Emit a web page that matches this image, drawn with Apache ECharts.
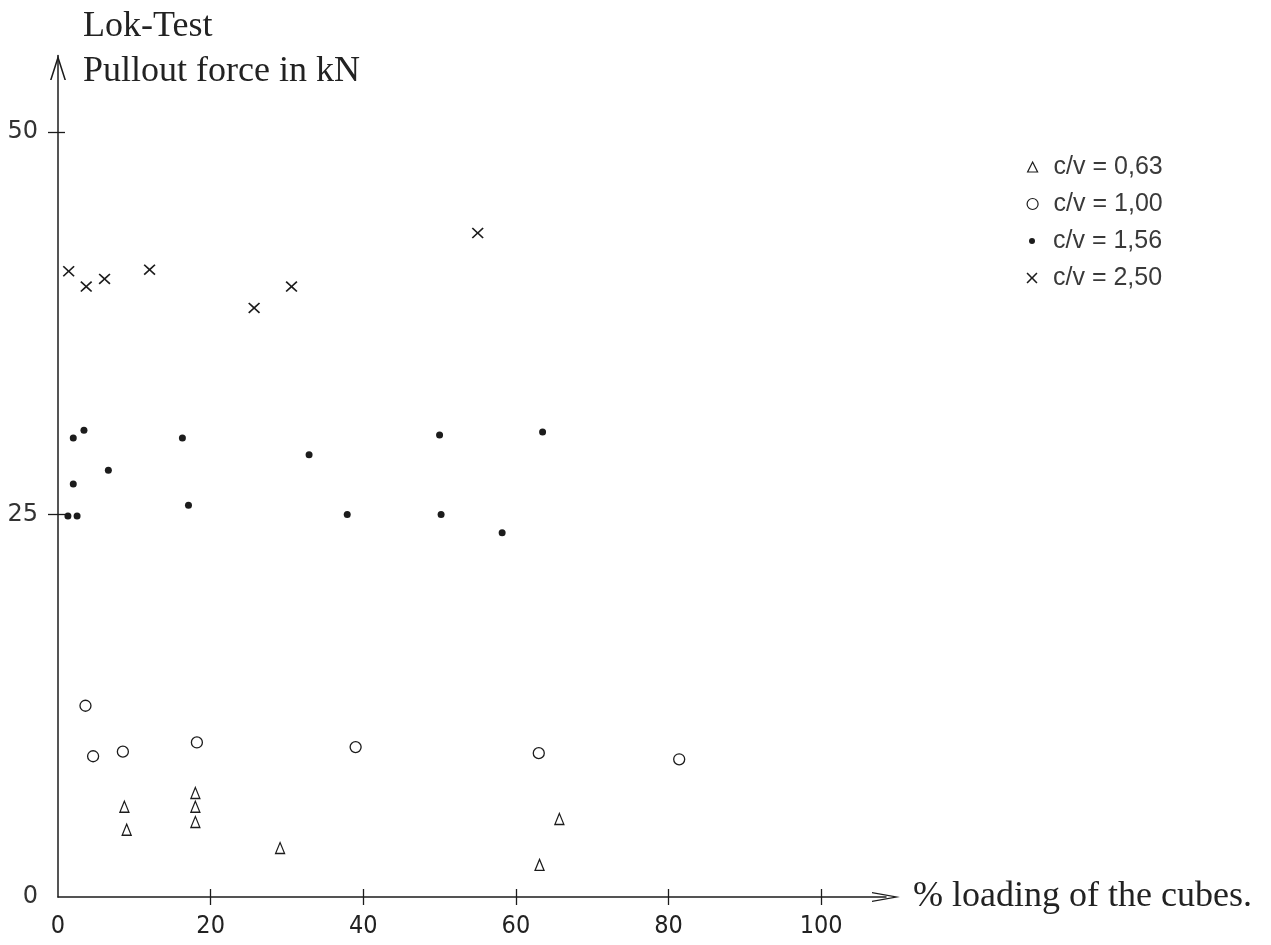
<!DOCTYPE html>
<html><head><meta charset="utf-8">
<script src="https://cdn.jsdelivr.net/npm/echarts@6/dist/echarts.min.js"></script>
<style>html,body{margin:0;padding:0;background:#fff}#c{width:1271px;height:945px}</style>
</head><body><div id="c"></div>
<script>
// ---- data ----
const seriesNames = ['c/v = 0,63', 'c/v = 1,00', 'c/v = 1,56', 'c/v = 2,50'];

const triX = [8.7, 9.0, 18.0, 18.0, 18.0, 29.1, 63.1, 65.7];
const triY = [5.9, 4.4, 6.8, 5.9, 4.9, 3.2, 2.1, 5.1];

const circX = [3.6, 4.6, 8.5, 18.2, 39.0, 63.0, 81.4];
const circY = [12.5, 9.2, 9.5, 10.1, 9.8, 9.4, 9.0];

const dotX = [2.0, 3.4, 6.6, 2.0, 1.3, 2.5, 16.3, 17.1, 32.9, 50.0, 63.5, 37.9, 50.2, 58.2];
const dotY = [30.0, 30.5, 27.9, 27.0, 24.9, 24.9, 30.0, 25.6, 28.9, 30.2, 30.4, 25.0, 25.0, 23.8];

const crossX = [1.4, 3.7, 6.1, 12.0, 25.7, 30.6, 55.0];
const crossY = [40.9, 39.9, 40.4, 41.0, 38.5, 39.9, 43.4];

const xTickLabels = [0, 20, 40, 60, 80, 100];
const xTickMarks = [20, 40, 60, 80, 100];
const yTickLabels = [0, 25, 50];
const yTickMarks = [25, 50];

const titleText = 'Lok-Test';
const yName = 'Pullout force in kN';
const xName = '% loading of the cubes.';

// ---- helpers ----
const pairs = (xs, ys) => xs.map((x, i) => [x, ys[i]]);
const ink = '#1c1c1c';
const serif = "'Liberation Serif', 'Times New Roman', serif";
const crossPath = 'path://M0,1 L1,0 L5,4 L9,0 L10,1 L6,5 L10,9 L9,10 L5,6 L1,10 L0,9 L4,5 Z';
const xArrow = 'path://M0,28 L5,0 L10,28 L8.8,28 L5,6.7 L1.2,28 Z';
const yArrow = 'path://M0,25 L8,0 L16,25 L14.4,25 L8,5 L1.6,25 Z';

const X_MAX = 108.5, Y_MAX = 55;

function legendFor(name, idx, size, bw) {
  const cy = 162 + idx * 37;
  return {
    data: [name], orient: 'vertical',
    left: 1027 - size / 2, top: cy - 13,
    itemWidth: size, itemHeight: size,
    selectedMode: false,
    itemStyle: { borderWidth: bw },
    textStyle: { fontFamily: "'Liberation Sans', Arial, sans-serif", fontSize: 25, color: '#3a3a3a',
      lineHeight: 26, padding: [0, 0, 0, 1048 - (1027 + size / 2 + 5)] }
  };
}

const chart = echarts.init(document.getElementById('c'), null, { renderer: 'canvas' });
chart.setOption({
  backgroundColor: '#fff',
  animation: false,
  title: [
    { text: titleText, left: 78, top: 4, textStyle: { fontFamily: serif, fontSize: 36, fontWeight: 'normal', color: '#222' } },
    { text: yName, left: 78, top: 49, textStyle: { fontFamily: serif, fontSize: 36, fontWeight: 'normal', color: '#222' } }
  ],
  legend: [
    legendFor(seriesNames[0], 0, 10, 1.2),
    legendFor(seriesNames[1], 1, 11, 1.2),
    legendFor(seriesNames[2], 2, 6, 0),
    legendFor(seriesNames[3], 3, 11, 0)
  ],
  grid: { left: 58, right: 1271 - 886, top: 897 - Y_MAX * 15.3, bottom: 48, containLabel: false },
  xAxis: [
    {
      type: 'value', min: 0, max: X_MAX, position: 'bottom',
      splitLine: { show: false },
      axisLine: { onZero: false, lineStyle: { color: ink, width: 1.5 }, symbol: ['none', xArrow], symbolSize: [10, 28] },
      axisTick: { show: true, inside: false, length: 8, customValues: xTickMarks, lineStyle: { color: ink, width: 1.3 } },
      axisLabel: { customValues: xTickLabels, margin: 17, fontFamily: "'Liberation Sans Narrow', 'DejaVu Sans Condensed', 'Arial Narrow', sans-serif", fontSize: 25, color: '#222' },
      name: xName, nameLocation: 'end', nameGap: 27,
      nameTextStyle: { fontFamily: serif, fontSize: 36, color: '#222', verticalAlign: 'middle', align: 'left', padding: [6, 0, 0, 0] }
    },
    {
      type: 'value', min: 0, max: X_MAX, position: 'bottom', offset: 0,
      splitLine: { show: false },
      axisLine: { show: false, onZero: false },
      axisTick: { show: true, inside: true, length: 8, customValues: xTickMarks, lineStyle: { color: ink, width: 1.3 } },
      axisLabel: { show: false }
    }
  ],
  yAxis: [
    {
      type: 'value', min: 0, max: Y_MAX, position: 'left',
      splitLine: { show: false },
      axisLine: { onZero: false, lineStyle: { color: ink, width: 1.5 }, symbol: ['none', yArrow], symbolSize: [16, 25], symbolOffset: [0, -12] },
      axisTick: { show: true, inside: false, length: 10, customValues: yTickMarks, lineStyle: { color: ink, width: 1.3 } },
      axisLabel: { customValues: yTickLabels, margin: 20, fontFamily: "'DejaVu Sans', sans-serif", fontSize: 24, color: '#333' }
    },
    {
      type: 'value', min: 0, max: Y_MAX, position: 'left', offset: 0,
      splitLine: { show: false },
      axisLine: { show: false, onZero: false },
      axisTick: { show: true, inside: true, length: 7, customValues: yTickMarks, lineStyle: { color: ink, width: 1.3 } },
      axisLabel: { show: false }
    }
  ],
  series: [
    { name: seriesNames[0], type: 'scatter', xAxisIndex: 0, yAxisIndex: 0, data: pairs(triX, triY),
      symbol: 'triangle', symbolSize: [9, 11],
      itemStyle: { color: '#fff', borderColor: ink, borderWidth: 1.3, opacity: 1 } },
    { name: seriesNames[1], type: 'scatter', xAxisIndex: 0, yAxisIndex: 0, data: pairs(circX, circY),
      symbol: 'circle', symbolSize: 11,
      itemStyle: { color: '#fff', borderColor: ink, borderWidth: 1.3, opacity: 1 } },
    { name: seriesNames[2], type: 'scatter', xAxisIndex: 0, yAxisIndex: 0, data: pairs(dotX, dotY),
      symbol: 'circle', symbolSize: 7,
      itemStyle: { color: ink, opacity: 1 } },
    { name: seriesNames[3], type: 'scatter', xAxisIndex: 0, yAxisIndex: 0, data: pairs(crossX, crossY),
      symbol: crossPath, symbolSize: [12, 11],
      itemStyle: { color: ink, opacity: 1 } }
  ]
});
</script>
</body></html>
